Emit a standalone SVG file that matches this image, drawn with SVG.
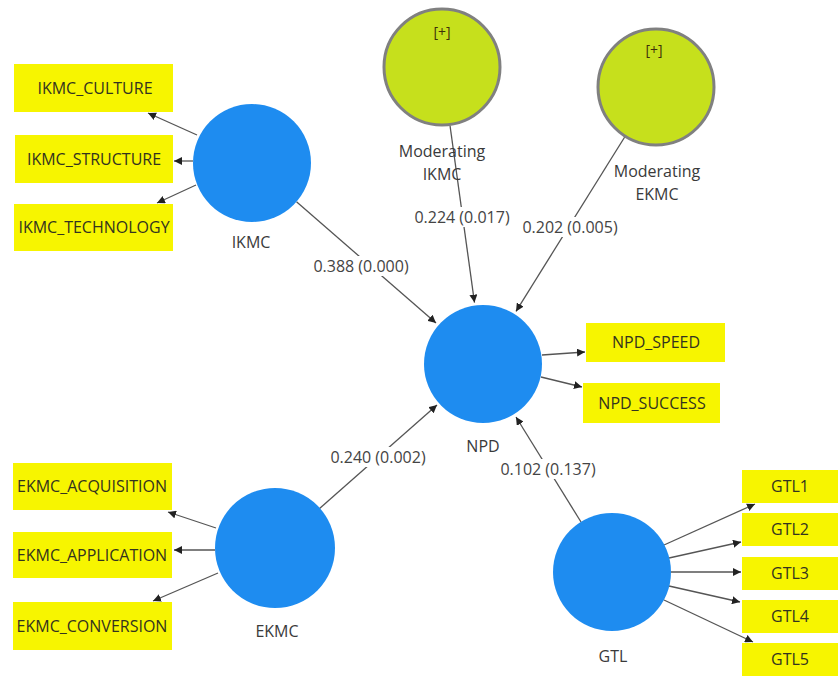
<svg xmlns="http://www.w3.org/2000/svg" width="838" height="676" viewBox="0 0 838 676">
<style>
text{font-family:"Open Sans","Noto Sans","Liberation Sans",sans-serif;font-size:16px;fill:#3a3a3a}
.ind rect{fill:#f7f500}
.ind text{fill:#33331f;text-anchor:middle}
.lv circle{fill:#1e8cf0}
.mod circle{fill:#c6e01c;stroke:#808080;stroke-width:3}
.lbl{text-anchor:middle}
.plus{font-size:14px;fill:#3f300a;text-anchor:middle}
.conn line{stroke:#555;stroke-width:1.3;marker-end:url(#ah)}
.pc rect{fill:#fff}
.pc text{text-anchor:middle;fill:#444}
</style>
<defs>
<marker id="ah" viewBox="0 0 10 10" refX="10" refY="5" markerWidth="8" markerHeight="8" markerUnits="userSpaceOnUse" orient="auto">
<path d="M0,0 L10,5 L0,10 z" fill="#222"/>
</marker>
</defs>
<rect width="838" height="676" fill="#fff"/>

<g class="conn" id="connectors">
<line x1="197" y1="135" x2="148" y2="113"/>
<line x1="193" y1="161" x2="174" y2="161"/>
<line x1="196" y1="185" x2="157" y2="203"/>
<line x1="216" y1="528" x2="168" y2="512"/>
<line x1="215" y1="550" x2="174" y2="550"/>
<line x1="218" y1="573" x2="153" y2="601"/>
<line x1="664" y1="545" x2="755" y2="504"/>
<line x1="669" y1="558" x2="741" y2="542"/>
<line x1="671" y1="572" x2="741" y2="572"/>
<line x1="669" y1="586" x2="740" y2="602"/>
<line x1="664" y1="600" x2="753" y2="642"/>
<line x1="542" y1="355" x2="585" y2="352"/>
<line x1="541" y1="377" x2="582" y2="387"/>
<line x1="296.5" y1="201.8" x2="436" y2="323"/>
<line x1="319" y1="509" x2="437" y2="405"/>
<line x1="581" y1="522" x2="516" y2="417"/>
<line x1="450" y1="125.5" x2="474.5" y2="302.6"/>
<line x1="624.7" y1="137" x2="516" y2="311.4"/>
</g>

<g class="pc" id="path-labels">
<g><rect x="314" y="256" width="94" height="20"/><text x="361" y="272">0.388 (0.000)</text></g>
<g><rect x="414" y="207" width="96" height="20"/><text x="462" y="223">0.224 (0.017)</text></g>
<g><rect x="522" y="217" width="96" height="20"/><text x="570" y="233">0.202 (0.005)</text></g>
<g><rect x="330" y="447" width="96" height="20"/><text x="378" y="463">0.240 (0.002)</text></g>
<g><rect x="500" y="459" width="96" height="20"/><text x="548" y="475">0.102 (0.137)</text></g>
</g>

<g class="ind" id="IKMC_CULTURE"><rect x="14" y="64" width="159" height="48"/><text x="95" y="94">IKMC_CULTURE</text></g>
<g class="ind" id="IKMC_STRUCTURE"><rect x="15" y="135" width="158" height="48"/><text x="94" y="165">IKMC_STRUCTURE</text></g>
<g class="ind" id="IKMC_TECHNOLOGY"><rect x="14" y="204" width="159" height="47"/><text x="94" y="233">IKMC_TECHNOLOGY</text></g>
<g class="ind" id="EKMC_ACQUISITION"><rect x="13" y="463" width="159" height="47"/><text x="92" y="492">EKMC_ACQUISITION</text></g>
<g class="ind" id="EKMC_APPLICATION"><rect x="13" y="532" width="159" height="46"/><text x="92" y="561">EKMC_APPLICATION</text></g>
<g class="ind" id="EKMC_CONVERSION"><rect x="13" y="602" width="159" height="48"/><text x="92" y="632">EKMC_CONVERSION</text></g>
<g class="ind" id="NPD_SPEED"><rect x="586" y="323" width="139" height="39"/><text x="656" y="348">NPD_SPEED</text></g>
<g class="ind" id="NPD_SUCCESS"><rect x="583" y="383" width="137" height="40"/><text x="652" y="409">NPD_SUCCESS</text></g>
<g class="ind" id="GTL1"><rect x="742" y="470" width="96" height="33"/><text x="790" y="492">GTL1</text></g>
<g class="ind" id="GTL2"><rect x="742" y="513" width="96" height="33"/><text x="790" y="535">GTL2</text></g>
<g class="ind" id="GTL3"><rect x="742" y="557" width="96" height="33"/><text x="790" y="579">GTL3</text></g>
<g class="ind" id="GTL4"><rect x="742" y="600" width="96" height="33"/><text x="790" y="622">GTL4</text></g>
<g class="ind" id="GTL5"><rect x="742" y="643" width="96" height="33"/><text x="790" y="665">GTL5</text></g>

<g class="lv" id="IKMC"><circle cx="252" cy="163" r="59"/><text class="lbl" x="251" y="248">IKMC</text></g>
<g class="lv" id="NPD"><circle cx="483" cy="364" r="59"/><text class="lbl" x="483" y="452">NPD</text></g>
<g class="lv" id="EKMC"><circle cx="275" cy="548" r="60"/><text class="lbl" x="277" y="637">EKMC</text></g>
<g class="lv" id="GTL"><circle cx="612" cy="572" r="59"/><text class="lbl" x="613" y="662">GTL</text></g>

<g class="mod" id="Moderating_IKMC"><circle cx="442" cy="67" r="58"/><text class="plus" x="442" y="37">[+]</text><text class="lbl" x="442" y="157">Moderating</text><text class="lbl" x="442" y="180">IKMC</text></g>
<g class="mod" id="Moderating_EKMC"><circle cx="656" cy="87" r="58"/><text class="plus" x="654" y="55">[+]</text><text class="lbl" x="657" y="177">Moderating</text><text class="lbl" x="657" y="200">EKMC</text></g>
</svg>
